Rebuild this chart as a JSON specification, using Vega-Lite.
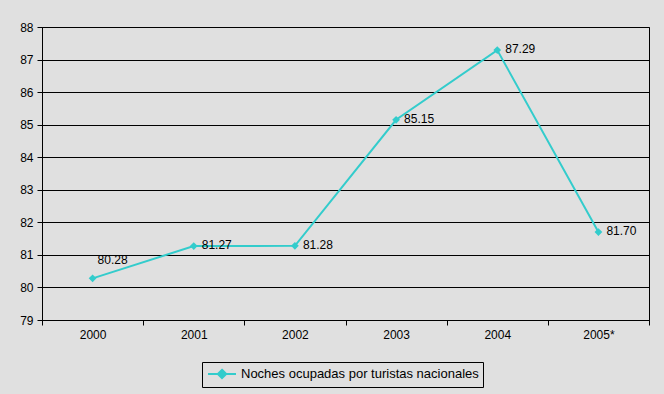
{
  "$schema": "https://vega.github.io/schema/vega-lite/v6.json",
  "width": 607,
  "height": 293,
  "autosize": "none",
  "padding": {"left": 42, "top": 27, "right": 15, "bottom": 74},
  "background": "#e0e0e0",
  "config": {
    "view": {"stroke": "#000000", "strokeWidth": 1, "fill": "#e0e0e0"},
    "font": "Liberation Sans",
    "axis": {
      "labelFont": "Liberation Sans",
      "labelFontSize": 12,
      "labelColor": "#000000",
      "domainColor": "#000000",
      "tickColor": "#000000",
      "gridColor": "#000000",
      "gridOpacity": 1,
      "tickSize": 5,
      "title": null
    }
  },
  "data": {
    "values": [
      {"year": "2000", "value": 80.28, "serie": "Noches ocupadas por turistas nacionales"},
      {"year": "2001", "value": 81.27, "serie": "Noches ocupadas por turistas nacionales"},
      {"year": "2002", "value": 81.28, "serie": "Noches ocupadas por turistas nacionales"},
      {"year": "2003", "value": 85.15, "serie": "Noches ocupadas por turistas nacionales"},
      {"year": "2004", "value": 87.29, "serie": "Noches ocupadas por turistas nacionales"},
      {"year": "2005*", "value": 81.70, "serie": "Noches ocupadas por turistas nacionales"}
    ]
  },
  "encoding": {
    "x": {
      "field": "year",
      "type": "ordinal",
      "sort": null,
      "bandPosition": 0.5,
      "scale": {"type": "band", "paddingInner": 0, "paddingOuter": 0},
      "axis": {"labelAngle": 0, "tickBand": "extent", "labelPadding": 4, "domain": true, "grid": false}
    },
    "y": {
      "field": "value",
      "type": "quantitative",
      "scale": {"domain": [79, 88], "nice": false, "zero": false},
      "axis": {"values": [79, 80, 81, 82, 83, 84, 85, 86, 87, 88], "grid": true, "labelPadding": 4}
    }
  },
  "layer": [
    {
      "mark": {"type": "line", "strokeWidth": 2, "point": {"shape": "diamond", "size": 60, "filled": true, "color": "#33cccc"}},
      "encoding": {
        "color": {
          "field": "serie",
          "type": "nominal",
          "scale": {"range": ["#33cccc"]},
          "legend": {
            "title": null,
            "orient": "none",
            "legendX": 160,
            "legendY": 335,
            "strokeColor": "#000000",
            "fillColor": "#e0e0e0",
            "padding": 4,
            "labelFont": "Liberation Sans",
            "labelFontSize": 13,
            "labelColor": "#000000",
            "labelLimit": 400,
            "symbolType": "M-2,0L2,0M0,-0.6L0.6,0L0,0.6L-0.6,0Z",
            "symbolSize": 196,
            "symbolStrokeWidth": 2,
            "symbolFillColor": "#33cccc",
            "symbolStrokeColor": "#33cccc",
            "symbolOffset": 8,
            "labelOffset": 11
          }
        }
      }
    },
    {
      "transform": [{"filter": "datum.year !== '2000'"}],
      "mark": {"type": "text", "align": "left", "baseline": "middle", "dx": 8, "dy": -1, "fontSize": 12, "font": "Liberation Sans", "color": "#000000"},
      "encoding": {"text": {"field": "value", "type": "quantitative", "format": ".2f"}}
    },
    {
      "transform": [{"filter": "datum.year === '2000'"}],
      "mark": {"type": "text", "align": "left", "baseline": "middle", "dx": 5, "dy": -18, "fontSize": 12, "font": "Liberation Sans", "color": "#000000"},
      "encoding": {"text": {"field": "value", "type": "quantitative", "format": ".2f"}}
    }
  ]
}
